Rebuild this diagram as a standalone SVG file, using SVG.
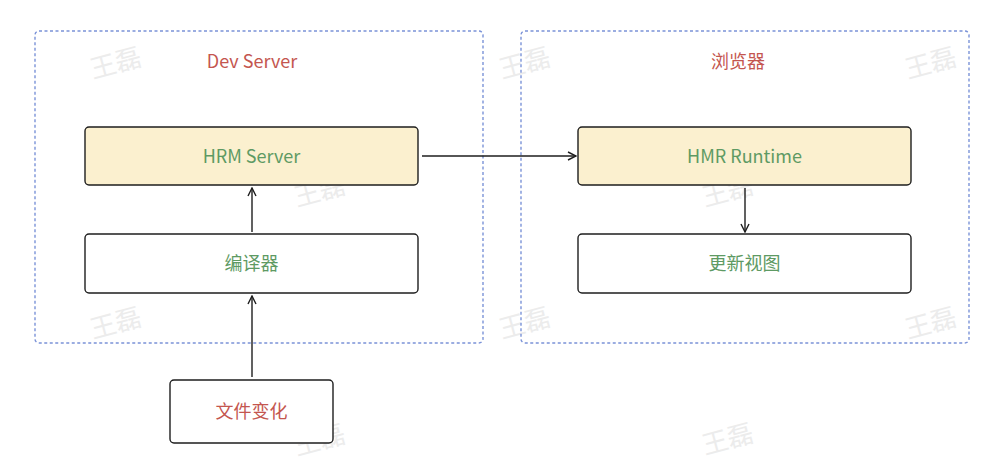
<svg xmlns="http://www.w3.org/2000/svg" width="990" height="462" viewBox="0 0 990 462">
<style>
.bg{fill:#ffffff}
.group{fill:none;stroke:#7b93d8;stroke-width:1.4;stroke-dasharray:3 2.5}
.node{stroke:#1e1e1e;stroke-width:1.4}
.hl{fill:#fbf0cf}
.plain{fill:#ffffff}
text{font-family:"Noto Sans CJK SC","Noto Sans",sans-serif;font-size:18px;text-anchor:middle}
.g{fill:#5e9a63}
.r{fill:#c4564f}
.wm{fill:#ececec;font-size:26px}
.conn{stroke:#1e1e1e;stroke-width:1.4;fill:none}
</style>
<defs>
<marker id="arr" viewBox="0 0 10 10" refX="9" refY="5" markerWidth="10" markerHeight="10" markerUnits="userSpaceOnUse" orient="auto">
<path d="M1,1 L9,5 L1,9" fill="none" stroke="#1e1e1e" stroke-width="1.4"/>
</marker>
</defs>
<rect class="bg" x="0" y="0" width="990" height="462"/>
<g id="watermarks">
<text class="wm" transform="translate(118,72) rotate(-15)">王磊</text>
<text class="wm" transform="translate(527,72) rotate(-15)">王磊</text>
<text class="wm" transform="translate(933,72) rotate(-15)">王磊</text>
<text class="wm" transform="translate(322,200) rotate(-15)">王磊</text>
<text class="wm" transform="translate(730,200) rotate(-15)">王磊</text>
<text class="wm" transform="translate(118,332) rotate(-15)">王磊</text>
<text class="wm" transform="translate(527,332) rotate(-15)">王磊</text>
<text class="wm" transform="translate(933,332) rotate(-15)">王磊</text>
<text class="wm" transform="translate(322,449) rotate(-15)">王磊</text>
<text class="wm" transform="translate(730,448) rotate(-15)">王磊</text>
</g>
<g id="dev-server">
<rect class="group" x="35" y="31" width="448" height="312" rx="4"/>
<text class="r" x="252" y="68">Dev Server</text>
</g>
<g id="browser">
<rect class="group" x="521" y="31" width="448" height="312" rx="4"/>
<text class="r" x="738" y="68">浏览器</text>
</g>
<g id="hrm-server">
<rect class="node hl" x="85" y="127" width="333" height="58" rx="4"/>
<text class="g" x="251.5" y="162.5">HRM Server</text>
</g>
<g id="compiler">
<rect class="node plain" x="85" y="234" width="333" height="59" rx="4"/>
<text class="g" x="251.5" y="270">编译器</text>
</g>
<g id="hmr-runtime">
<rect class="node hl" x="578" y="127" width="333" height="58" rx="4"/>
<text class="g" x="744.5" y="162.5">HMR Runtime</text>
</g>
<g id="update-view">
<rect class="node plain" x="578" y="234" width="333" height="59" rx="4"/>
<text class="g" x="744.5" y="270">更新视图</text>
</g>
<g id="file-change">
<rect class="node plain" x="170" y="380" width="163" height="63" rx="4"/>
<text class="r" x="251.5" y="418">文件变化</text>
</g>
<g id="connectors">
<line class="conn" x1="422" y1="156" x2="576" y2="156" marker-end="url(#arr)"/>
<line class="conn" x1="252" y1="232" x2="252" y2="188" marker-end="url(#arr)"/>
<line class="conn" x1="252" y1="377" x2="252" y2="296" marker-end="url(#arr)"/>
<line class="conn" x1="745" y1="188" x2="745" y2="232" marker-end="url(#arr)"/>
</g>
</svg>
